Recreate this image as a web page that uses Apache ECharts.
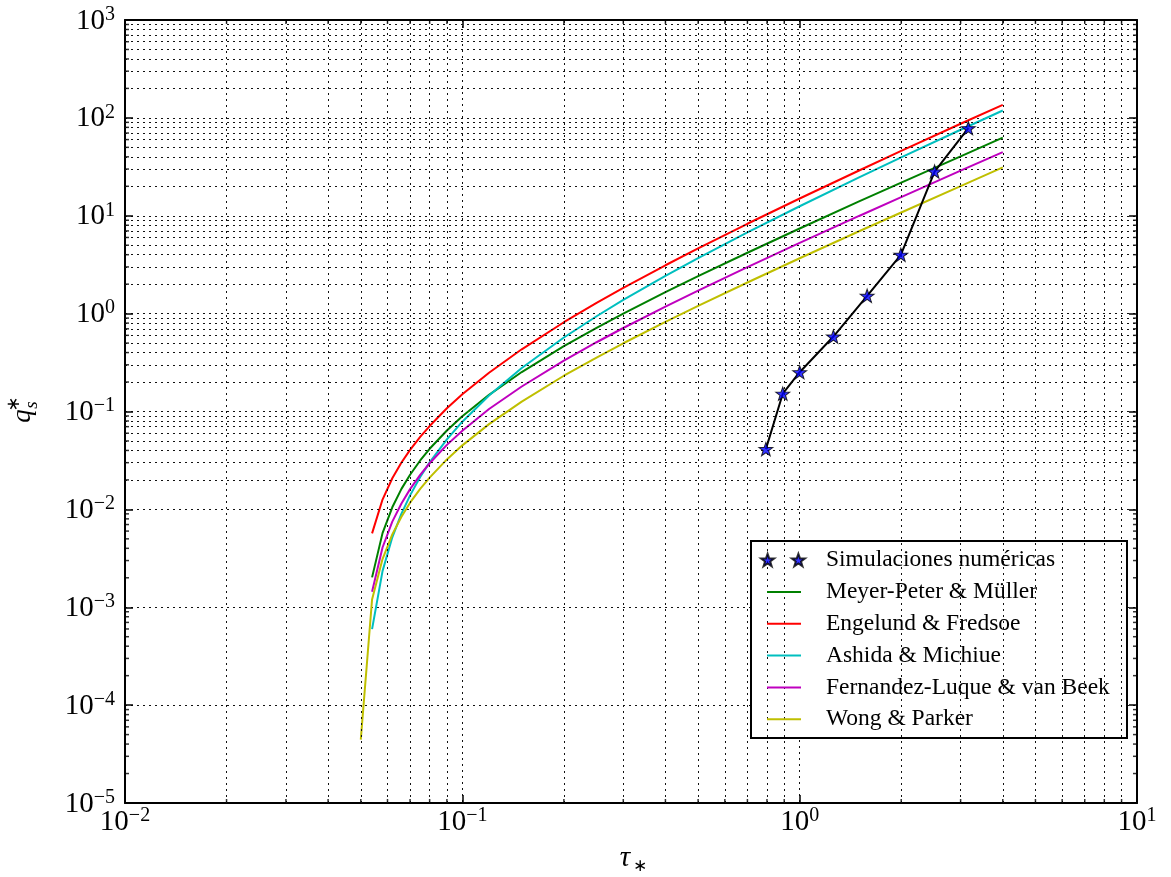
<!DOCTYPE html>
<html>
<head>
<meta charset="utf-8">
<script src="https://cdn.jsdelivr.net/npm/echarts@6/dist/echarts.min.js"></script>
<style>
html,body{margin:0;padding:0;background:#fff}
#main{width:1171px;height:877px}
</style>
</head>
<body>
<div id="main"></div>
<script>
// tau* samples of the transport formulas
var tau = [0.054, 0.058, 0.062, 0.066, 0.070, 0.075, 0.080, 0.090, 0.10, 0.12, 0.15, 0.20, 0.25, 0.30, 0.40, 0.50, 0.70, 1.0, 1.5, 2.0, 3.0, 4.0];
var tauWP = [0.050, 0.054, 0.058, 0.062, 0.066, 0.070, 0.075, 0.080, 0.090, 0.10, 0.12, 0.15, 0.20, 0.25, 0.30, 0.40, 0.50, 0.70, 1.0, 1.5, 2.0, 3.0, 4.0];

var meyerPeter = [0.00202, 0.00572, 0.0105, 0.0162, 0.0226, 0.0316, 0.0416, 0.0640, 0.0894, 0.148, 0.253, 0.465, 0.716, 1.00, 1.66, 2.42, 4.19, 7.41, 14.0, 21.8, 40.5, 62.8];
var engelund = [0.00569, 0.0126, 0.0208, 0.0301, 0.0405, 0.0550, 0.0710, 0.108, 0.150, 0.249, 0.432, 0.817, 1.29, 1.83, 3.12, 4.64, 8.28, 15.0, 29.0, 46.0, 87.1, 136];
var ashida = [0.000597, 0.00234, 0.00518, 0.00906, 0.0139, 0.0214, 0.0302, 0.0519, 0.0787, 0.146, 0.278, 0.570, 0.940, 1.38, 2.43, 3.70, 6.77, 12.5, 24.7, 39.5, 75.6, 119];
var fernandez = [0.00144, 0.00408, 0.00749, 0.0115, 0.0161, 0.0225, 0.0296, 0.0456, 0.0637, 0.106, 0.180, 0.331, 0.510, 0.713, 1.18, 1.72, 2.99, 5.28, 9.95, 15.5, 28.9, 44.7];
var wongParker = [0.0000444, 0.00120, 0.00311, 0.00555, 0.00841, 0.0117, 0.0162, 0.0211, 0.0324, 0.0451, 0.0743, 0.126, 0.232, 0.356, 0.498, 0.824, 1.20, 2.08, 3.68, 6.94, 10.8, 20.1, 31.2];

// simulaciones numericas
var simTau = [0.794, 0.891, 1.0, 1.259, 1.585, 1.995, 2.512, 3.162];
var simQ = [0.0413, 0.152, 0.252, 0.583, 1.52, 3.99, 28.3, 78.5];

var names = ['Simulaciones numéricas', 'Meyer-Peter & Müller', 'Engelund & Fredsoe', 'Ashida & Michiue', 'Fernandez-Luque & van Beek', 'Wong & Parker'];
var colors = ['#0000ff', '#008000', '#ff0000', '#00bfbf', '#bf00bf', '#bfbf00'];

var FONT = 'Liberation Serif';

function pairs(xs, ys) {
    return xs.map(function (x, i) { return [x, ys[i]]; });
}

// minor tick positions 2..9 x 10^d
function minors(d0, d1) {
    var out = [];
    for (var d = d0; d < d1; d++) {
        for (var k = 2; k <= 9; k++) out.push(Number((k * Math.pow(10, d)).toPrecision(3)));
    }
    return out;
}
var minorX = minors(-2, 1);
var minorY = minors(-5, 3);

function starPath(cx, cy, R, r) {
    var s = '';
    for (var k = 0; k < 10; k++) {
        var a = (-90 + 36 * k) * Math.PI / 180, rr = k % 2 ? r : R;
        s += (k ? 'L' : 'M') + (cx + rr * Math.cos(a)).toFixed(2) + ',' + (cy + rr * Math.sin(a)).toFixed(2);
    }
    return s + 'Z';
}
var star = 'path://' + starPath(0, 0, 10, 4);
var twoStars = 'path://' + starPath(7, 7, 7, 2.8) + starPath(38, 7, 7, 2.8);

function powLabel(v) {
    var e = Math.round(Math.log10(v));
    return '{b|10}{s|' + (e < 0 ? '\u2212' + (-e) : e) + '}';
}
var labelRich = {
    b: {fontSize: 29, lineHeight: 31, verticalAlign: 'bottom', fontFamily: FONT, color: '#000'},
    s: {fontSize: 20, lineHeight: 20, verticalAlign: 'top', fontFamily: FONT, color: '#000'}
};
var dotted = {color: '#111', type: [2, 4], width: 1};

function logAxis(min, max, pos, main) {
    return {
        type: 'log', logBase: 10, min: min, max: max, interval: 1, position: pos,
        axisLine: {show: true, onZero: false, lineStyle: {color: '#000', width: 2}},
        axisTick: {show: true, inside: true, length: 8, lineStyle: {color: '#000', width: 1.5}},
        axisLabel: {show: main, formatter: powLabel, rich: labelRich, margin: pos === 'bottom' ? 3 : 10,
            showMinLabel: true, showMaxLabel: true, hideOverlap: false},
        splitLine: {show: main, lineStyle: dotted},
        minorTick: {show: false}
    };
}

function tickSeries(data, size, offset) {
    return {
        type: 'scatter', data: data, symbol: 'rect', symbolSize: size, symbolOffset: offset,
        itemStyle: {color: '#000'}, silent: true, z: 3, clip: false
    };
}

var curves = [meyerPeter, engelund, ashida, fernandez, wongParker];
var series = [{
    type: 'line', data: [[0.01, 0.00001]], symbol: 'none', lineStyle: {width: 0}, silent: true, z: 1,
    markLine: {
        silent: true, symbol: ['none', 'none'], label: {show: false}, animation: false,
        lineStyle: dotted,
        data: minorX.map(function (v) { return {xAxis: v}; }).concat(minorY.map(function (v) { return {yAxis: v}; }))
    }
}];
curves.forEach(function (c, i) {
    series.push({
        name: names[i + 1], type: 'line', data: pairs(c === wongParker ? tauWP : tau, c),
        symbol: 'none', color: colors[i + 1], lineStyle: {width: 2, color: colors[i + 1]}, z: 4
    });
});
series.push({
    type: 'line', data: pairs(simTau, simQ), symbol: 'none', lineStyle: {width: 2, color: '#000'}, z: 5
});
series.push({
    name: names[0], type: 'scatter', data: pairs(simTau, simQ), symbol: star, symbolSize: [14, 13.3],
    itemStyle: {color: '#0000ff', borderColor: '#000', borderWidth: 1}, z: 6
});
series.push(tickSeries(minorX.map(function (v) { return [v, 0.00001]; }), [1.5, 4], [0, -2]));
series.push(tickSeries(minorX.map(function (v) { return [v, 1000]; }), [1.5, 4], [0, 2]));
series.push(tickSeries(minorY.map(function (v) { return [0.01, v]; }), [4, 1.5], [2, 0]));
series.push(tickSeries(minorY.map(function (v) { return [10, v]; }), [4, 1.5], [-2, 0]));

var legendText = {fontFamily: FONT, fontSize: 23.5, lineHeight: 22, color: '#000'};

var option = {
    animation: false,
    backgroundColor: '#fff',
    grid: {left: 125, right: 34, top: 20, bottom: 74, containLabel: false},
    xAxis: [logAxis(0.01, 10, 'bottom', true), logAxis(0.01, 10, 'top', false)],
    yAxis: [logAxis(0.00001, 1000, 'left', true), logAxis(0.00001, 1000, 'right', false)],
    legend: [{
        data: [{name: names[0], icon: twoStars}],
        orient: 'vertical', left: 760, top: 548, padding: 0,
        itemWidth: 44, itemHeight: 13, selectedMode: false, z: 6,
        textStyle: Object.assign({padding: [0, 0, 0, 16]}, legendText)
    }, {
        data: names.slice(1),
        orient: 'vertical', left: 766, top: 580, padding: 0,
        itemWidth: 34, itemHeight: 14, itemGap: 7.8, selectedMode: false, z: 6,
        itemStyle: {opacity: 0},
        lineStyle: {width: 2},
        textStyle: Object.assign({padding: [0, 0, 0, 20]}, legendText)
    }],
    graphic: [
        {type: 'rect', shape: {x: 751, y: 541, width: 376, height: 197}, z: 5,
            style: {fill: '#fff', stroke: '#000', lineWidth: 2}},
        {type: 'text', x: 625, y: 858, style: {text: 'τ', font: 'italic 29px ' + FONT, fill: '#000', align: 'center', verticalAlign: 'middle'}},
        {type: 'text', x: 640, y: 867, style: {text: '\u2217', font: '17px DejaVu Sans', fill: '#000', align: 'center', verticalAlign: 'middle'}},
        {type: 'text', x: 23, y: 416, rotation: Math.PI / 2, style: {text: 'q', font: 'italic 27px ' + FONT, fill: '#000', align: 'center', verticalAlign: 'middle'}},
        {type: 'text', x: 14, y: 404, rotation: Math.PI / 2, style: {text: '\u2217', font: '18px DejaVu Sans', fill: '#000', align: 'center', verticalAlign: 'middle'}},
        {type: 'text', x: 32, y: 405, rotation: Math.PI / 2, style: {text: 's', font: 'italic 19px ' + FONT, fill: '#000', align: 'center', verticalAlign: 'middle'}}
    ],
    series: series
};

var myChart = echarts.init(document.getElementById('main'));
myChart.setOption(option);
</script>
</body>
</html>
